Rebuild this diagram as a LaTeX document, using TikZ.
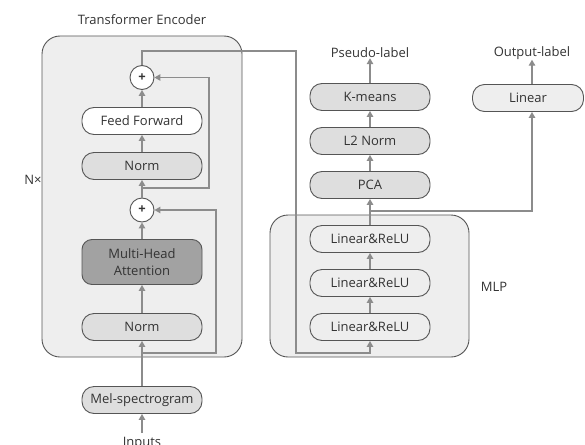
\documentclass[tikz,border=0pt]{standalone}
\usepackage{fontspec}
\setmainfont{Open Sans}
\usetikzlibrary{arrows.meta}
\definecolor{lnc}{HTML}{8C8C8C}
\definecolor{bdc}{HTML}{555555}
\definecolor{txc}{HTML}{333333}
\definecolor{bgc}{HTML}{EEEEEE}
\definecolor{lgc}{HTML}{DEDEDE}
\definecolor{dgc}{HTML}{A2A2A2}
\tikzset{
  pill/.style={draw=bdc, line width=0.9pt, rounded corners=12pt, minimum width=120pt, minimum height=27pt, inner sep=0pt, text=txc, font=\fontsize{13}{17}\selectfont, align=center},
  whitepill/.style={pill, fill=white},
  greypill/.style={pill, fill=lgc},
  bgpill/.style={pill, fill=bgc},
  darkpill/.style={pill, fill=dgc, minimum height=45pt, rounded corners=10pt},
  plus/.style={draw=bdc, line width=0.9pt, circle, fill=white, minimum size=24pt, inner sep=0pt, font=\bfseries\fontsize{13}{14}\selectfont, text=txc},
  frame/.style={draw=bdc, line width=0.9pt, fill=bgc, rounded corners=18pt},
  lbl/.style={text=txc, font=\fontsize{13}{15}\selectfont, inner sep=0pt},
  conn/.style={draw=lnc, line width=1.3pt},
  arr/.style={conn, -{Triangle[length=6pt,width=6.5pt]}},
}
\begin{document}
\begin{tikzpicture}[x=1pt,y=-1pt]
\useasboundingbox (0,0) rectangle (585,444);
% frames
\node[frame, minimum width=200pt, minimum height=321pt] (enc) at (142,196.5) {};
\node[frame, minimum width=199pt, minimum height=142pt] (mlp) at (369.5,286) {};
% labels
\node[lbl] (title) at (142,20) {Transformer Encoder};
\node[lbl] (nx) at (33,180) {N×};
\node[lbl] (mlplbl) at (494,287) {MLP};
\node[lbl, anchor=north] (inputs) at (142,437) {Inputs};
\node[lbl] (pseudo) at (370,53) {Pseudo-label};
\node[lbl] (outlbl) at (532,53) {Output-label};
% encoder nodes
\node[plus] (p2) at (142,77.5) {+};
\node[whitepill] (ff) at (142,121) {Feed Forward};
\node[greypill] (n2) at (142,166) {Norm};
\node[plus] (p1) at (142,210) {+};
\node[darkpill] (mha) at (142,262) {Multi-Head\\Attention};
\node[greypill] (n1) at (142,327) {Norm};
\node[greypill] (mel) at (142,400) {Mel-spectrogram};
% right column
\node[greypill] (km) at (370,97) {K-means};
\node[greypill] (l2) at (370,141) {L2 Norm};
\node[greypill] (pca) at (370,185) {PCA};
\node[bgpill] (lr3) at (370,239) {Linear\&ReLU};
\node[bgpill] (lr2) at (370,283) {Linear\&ReLU};
\node[bgpill] (lr1) at (370,327) {Linear\&ReLU};
\node[bgpill, minimum width=111pt] (lin) at (528,98) {Linear};
% coordinates
\coordinate (s1) at (142,353);
\coordinate (s2) at (142,188);
\coordinate (s3) at (370,211);
\coordinate (inp) at (142,433);
% connectors
\draw[arr] (inp) -- (mel.south);
\draw[arr] (mel.north) -- (n1.south);
\draw[arr] (n1.north) -- (mha.south);
\draw[arr] (mha.north) -- (p1.south);
\draw[arr] (s1) -| (216,210) -- (p1.east);
\draw[arr] (p1.north) -- (n2.south);
\draw[arr] (s2) -| (209,77.5) -- (p2.east);
\draw[arr] (n2.north) -- (ff.south);
\draw[arr] (ff.north) -- (p2.south);
\draw[arr] (p2.north) |- (296,51) |- (370,353) -- (lr1.south);
\draw[arr] (lr1.north) -- (lr2.south);
\draw[arr] (lr2.north) -- (lr3.south);
\draw[arr] (lr3.north) -- (pca.south);
\draw[arr] (s3) -| ([xshift=4pt]lin.south);
\draw[arr] (pca.north) -- (l2.south);
\draw[arr] (l2.north) -- (km.south);
\draw[arr] (km.north) -- (pseudo.south);
\draw[arr] ([xshift=4pt]lin.north) -- (outlbl.south);
\end{tikzpicture}
\end{document}
